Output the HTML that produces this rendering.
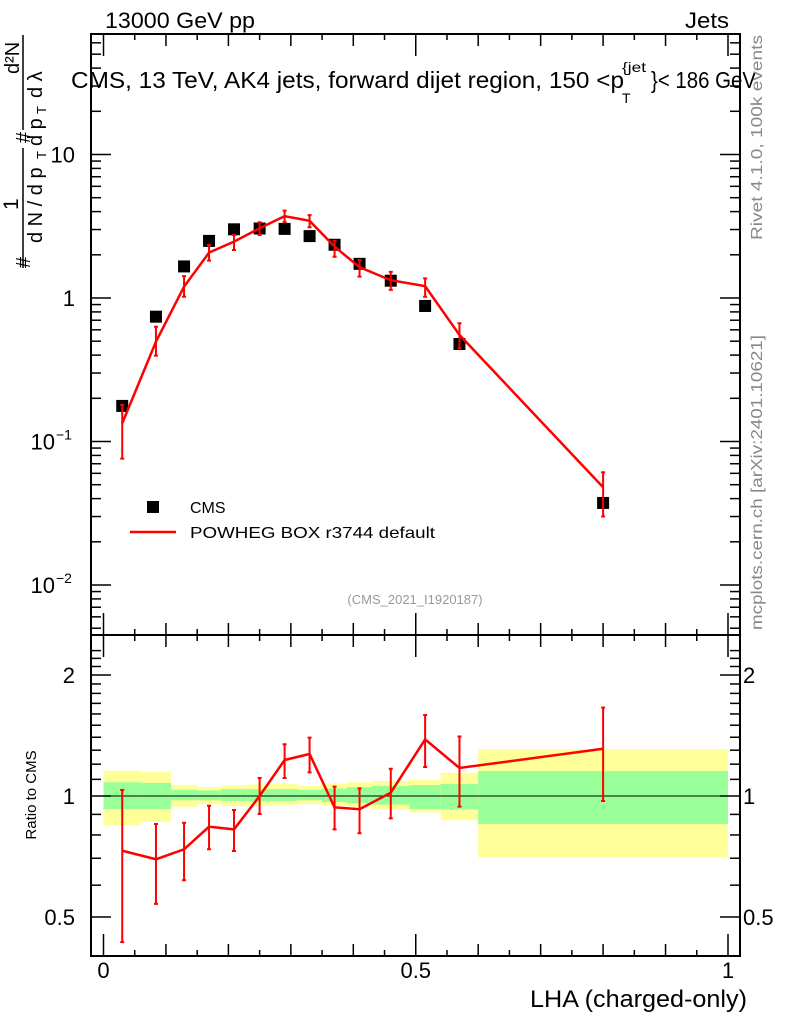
<!DOCTYPE html>
<html><head><meta charset="utf-8"><style>
body{margin:0;background:#fff}
svg{display:block;font-family:"Liberation Sans",sans-serif}
</style></head><body>
<svg id="c" width="786" height="1024" viewBox="0 0 786 1024" xmlns="http://www.w3.org/2000/svg">
<g id="bands"></g>
<g id="frame"></g>
<g id="marks"></g>
<g id="texts">
<text x="105" y="28" font-size="22" textLength="150" lengthAdjust="spacingAndGlyphs">13000 GeV pp</text>
<text x="685" y="28" font-size="22" textLength="44" lengthAdjust="spacingAndGlyphs">Jets</text>
<g>
<text x="71" y="88" font-size="23" textLength="553" lengthAdjust="spacingAndGlyphs">CMS, 13 TeV, AK4 jets, forward dijet region, 150 &lt;p</text>
<text x="622" y="72" font-size="14" textLength="24" lengthAdjust="spacingAndGlyphs">{jet</text>
<text x="622" y="103" font-size="14">T</text>
<text x="651" y="88" font-size="23" textLength="105" lengthAdjust="spacingAndGlyphs">}&lt; 186 GeV</text>
</g>
<text x="415" y="604" font-size="13" fill="#999" text-anchor="middle">(CMS_2021_I1920187)</text>
<text x="530" y="1007" font-size="24" textLength="217" lengthAdjust="spacingAndGlyphs">LHA (charged-only)</text>
<text transform="translate(36,795) rotate(-90)" font-size="15" text-anchor="middle">Ratio to CMS</text>
<g transform="rotate(-90)">
<text x="-268" y="30" font-size="20">#</text>
<text x="-210" y="18" font-size="21">1</text>
<line x1="-268" y1="23" x2="-148" y2="23" stroke="#000" stroke-width="1.5"/>
<text x="-243" y="42" font-size="20">d N / d p</text>
<text x="-159" y="46" font-size="13">T</text>
<text x="-143" y="30" font-size="20">#</text>
<text x="-74" y="19" font-size="20">d²N</text>
<line x1="-130" y1="23" x2="-35" y2="23" stroke="#000" stroke-width="1.5"/>
<text x="-146" y="42" font-size="20">d p</text>
<text x="-114" y="46" font-size="13">T</text>
<text x="-98" y="42" font-size="20">  d λ</text>
</g>
<text transform="translate(762,240) rotate(-90)" font-size="16" fill="#888" textLength="205" lengthAdjust="spacingAndGlyphs">Rivet 4.1.0,  100k events</text>
<text transform="translate(762,630) rotate(-90)" font-size="16" fill="#888" textLength="295" lengthAdjust="spacingAndGlyphs">mcplots.cern.ch [arXiv:2401.10621]</text>
<rect x="147" y="501" width="12" height="12" fill="#000"/>
<text x="190" y="513" font-size="16">CMS</text>
<line x1="130" y1="532" x2="176" y2="532" stroke="#f00" stroke-width="2.5"/>
<text x="190" y="538" font-size="16" textLength="245" lengthAdjust="spacingAndGlyphs">POWHEG BOX r3744 default</text>
</g>
</svg>
<script>
var edges=[0,0.06,0.108,0.15,0.188,0.23,0.27,0.31,0.35,0.39,0.43,0.49,0.54,0.6,1.0];
var xs=[0.03,0.084,0.129,0.169,0.209,0.25,0.29,0.33,0.37,0.41,0.46,0.515,0.57,0.8];
var dataVals=[0.177,0.741,1.66,2.50,3.01,3.05,3.03,2.70,2.35,1.73,1.32,0.88,0.478,0.0373];
var mcVals=[0.134,0.496,1.20,2.07,2.47,3.06,3.72,3.45,2.28,1.64,1.33,1.21,0.553,0.048];
var mcHi=[0.18,0.631,1.42,2.34,2.75,3.37,4.06,3.78,2.50,1.84,1.52,1.37,0.667,0.061];
var mcLo=[0.076,0.397,1.02,1.82,2.16,2.75,3.37,3.11,1.94,1.41,1.14,1.02,0.446,0.030];
var ratioVals=[0.731,0.696,0.737,0.839,0.826,1.0,1.229,1.272,0.937,0.927,1.019,1.383,1.174,1.311];
var ratioHi=[1.035,0.852,0.858,0.946,0.923,1.109,1.345,1.397,1.055,1.045,1.169,1.590,1.406,1.659];
var ratioLo=[0.433,0.539,0.617,0.737,0.730,0.902,1.109,1.145,0.826,0.808,0.880,1.181,0.941,0.972];
var yelHi=[1.156,1.148,1.066,1.052,1.064,1.068,1.072,1.060,1.074,1.082,1.090,1.098,1.142,1.307];
var yelLo=[0.847,0.862,0.940,0.954,0.944,0.944,0.948,0.954,0.948,0.940,0.924,0.910,0.870,0.704];
var grnHi=[1.082,1.078,1.036,1.032,1.040,1.040,1.040,1.036,1.044,1.052,1.060,1.064,1.072,1.154];
var grnLo=[0.928,0.928,0.976,0.976,0.972,0.970,0.972,0.976,0.966,0.960,0.952,0.928,0.926,0.852];
var mainTicks=["10","1","10","10"];
var mainTickExp=["","","−1","−2"];
var mainTickVals=[10,1,0.1,0.01];
var ratioTickVals=[2,1,0.5];
var xTickVals=[0,0.5,1];

var NS='http://www.w3.org/2000/svg';
var L=91,R=740,T=34,M=635,B=956;
function X(v){return 103.5+v*(728-103.5);}
function Y(v){return 298-143.5*Math.log10(v);}
function YR(v){return 796-121*Math.log2(v);}
function mk(parent,tag,attrs){var e=document.createElementNS(NS,tag);for(var k in attrs)e.setAttribute(k,attrs[k]);document.getElementById(parent).appendChild(e);return e;}
var i,e,t;
for(i=0;i<xs.length;i++){
 e=mk('bands','rect',{x:X(edges[i]),y:YR(yelHi[i]),width:X(edges[i+1])-X(edges[i]),height:YR(yelLo[i])-YR(yelHi[i]),fill:'#ffff99'});
 
 
 e=mk('bands','rect',{x:X(edges[i]),y:YR(grnHi[i]),width:X(edges[i+1])-X(edges[i]),height:YR(grnLo[i])-YR(grnHi[i]),fill:'#99ff99'});
 
 
}
[[T,M],[M,B]].forEach(function(p){
 var f=mk('frame','rect',{x:L,y:p[0],width:R-L,height:p[1]-p[0],fill:'none',stroke:'#000','stroke-width':2});
 
 
});
var ln=mk('frame','line',{x1:L,x2:R,y1:YR(1),y2:YR(1),stroke:'#000','stroke-width':1});


for(var d=-3;d<=1;d++)for(var k=1;k<10;k++){
 var v=k*Math.pow(10,d),y=Y(v); if(y<T||y>M)continue;
 var len=k==1?20:10;
 mk('frame','line',{x1:L,x2:L+len,y1:y,y2:y,stroke:'#000','stroke-width':1.5});
 mk('frame','line',{x1:R,x2:R-len,y1:y,y2:y,stroke:'#000','stroke-width':1.5});
}
mainTickVals.forEach(function(v,i){
 var ex=mainTickExp[i];
 var t=mk('frame','text',{x:ex?L-36:L-16,y:Y(v)+8,'font-size':22,'text-anchor':'end'});t.textContent=mainTicks[i];
 
 
 if(ex){var s=mk('frame','text',{x:L-35,y:Y(v)-2,'font-size':14});s.textContent=ex;
 
 }
});
for(var r=4;r<=23;r++){var v2=r/10,y2=YR(v2);if(y2<M||y2>B)continue;
 var big=ratioTickVals.some(function(tv){return Math.abs(tv-v2)<1e-6;});var l2=big?20:10;
 mk('frame','line',{x1:L,x2:L+l2,y1:y2,y2:y2,stroke:'#000','stroke-width':1.5});
 mk('frame','line',{x1:R,x2:R-l2,y1:y2,y2:y2,stroke:'#000','stroke-width':1.5});}
ratioTickVals.forEach(function(v){
 var t=mk('frame','text',{x:L-16,y:YR(v)+8,'font-size':22,'text-anchor':'end'});t.textContent=String(v);
 
 
 t=mk('frame','text',{x:R+3,y:YR(v)+8,'font-size':22});t.textContent=String(v);
 
 
});
for(i=0;i<=20;i++){var xv=X(i*0.05);var tl=i%10==0?22:(i%2==0?12:6);
 [[T,1],[M,1],[M,-1],[B,-1]].forEach(function(p){mk('frame','line',{x1:xv,x2:xv,y1:p[0],y2:p[0]+p[1]*tl,stroke:'#000','stroke-width':1.5});});}
xTickVals.forEach(function(v){var t=mk('frame','text',{x:X(v),y:978,'font-size':22,'text-anchor':'middle'});t.textContent=String(v);
 
 });
xs.forEach(function(x,i){var r=mk('marks','rect',{x:X(x)-6,y:Y(dataVals[i])-6,width:12,height:12,fill:'#000'});
 
 });
function series(vals,hi,lo,Yf,name){
 var p=mk('marks','polyline',{points:xs.map(function(x,i){return X(x)+','+Yf(vals[i]);}).join(' '),fill:'none',stroke:'#f00','stroke-width':2.5});
 
 
 xs.forEach(function(x,i){var xx=X(x);var y1=Yf(hi[i]),y2=Math.min(Yf(lo[i]),name==='mc'?M:B);
  var e=mk('marks','path',{d:'M'+xx+','+y1+'V'+y2+'M'+(xx-2)+','+y1+'h4M'+(xx-2)+','+y2+'h4',stroke:'#f00','stroke-width':2,fill:'none'});
  
  });
}
series(mcVals,mcHi,mcLo,Y,'mc');
series(ratioVals,ratioHi,ratioLo,YR,'ratio');
</script>
</body></html>
